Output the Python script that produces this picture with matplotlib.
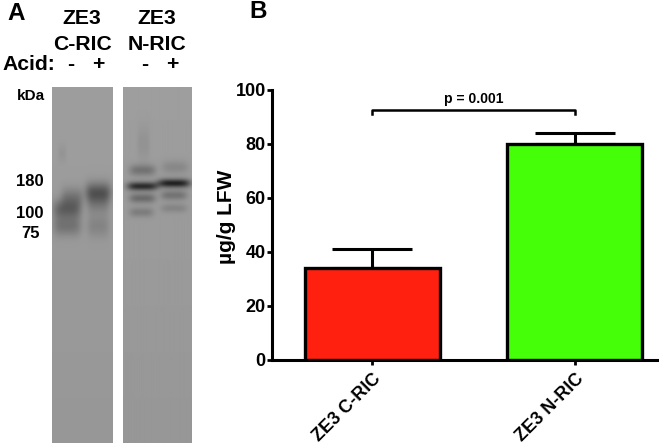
import numpy as np
import matplotlib
matplotlib.use('Agg')
import matplotlib.pyplot as plt

plt.rcParams['font.family'] = ['Liberation Sans', 'DejaVu Sans']
plt.rcParams['font.weight'] = 'bold'

W = 659
H = 445

# bar chart values
groups = ['ZE3 C-RIC', 'ZE3 N-RIC']
means = [34, 80]
errors = [7, 4]
bar_colors = ['#ff2010', '#44ff08']
y_ticks = [0, 20, 40, 60, 80, 100]
p_text = 'p = 0.001'

# blot bands: x, y, half width x, half width y, darkness (pixels of the picture)
left_bands = [
    (67, 209, 14, 7, 0.22),
    (72, 197, 11, 7, 0.13),
    (67, 226, 14, 7, 0.15),
    (98, 192, 13, 7, 0.25),
    (98, 203, 11, 8, 0.11),
    (98, 226, 11, 8, 0.09),
    (62, 153, 4, 6, 0.03),
]
right_bands = [
    (142, 170, 13, 4, 0.16),
    (142, 186, 15, 3, 0.44),
    (142, 198, 13, 3.4, 0.19),
    (141, 212, 12, 3.4, 0.12),
    (174, 167, 13, 4.5, 0.08),
    (173, 183, 16, 3, 0.48),
    (173, 195, 13, 3.4, 0.16),
    (173, 208, 13, 3.2, 0.09),
    (143, 143, 6, 12, 0.04),
]
kda_labels = ['180', '100', '75']
kda_y = [181, 214, 234]


def px_axes(x0, y0, x1, y1):
    # axes placed with the pixel box of the picture (y from the top)
    return fig.add_axes([x0 / W, 1 - y1 / H, (x1 - x0) / W, (y1 - y0) / H])


def draw_blot(x0, x1, bands):
    y0, y1 = 87, 443
    ax = px_axes(x0, y0, x1, y1)
    xx, yy = np.meshgrid(np.arange(x0, x1, 0.5), np.arange(y0, y1, 0.5))
    img = 0.62 - 0.03 * (yy - y0) / (y1 - y0)
    for bx, by, sx, sy, dark in bands:
        img = img - dark * np.exp(-((xx - bx) / sx) ** 4 - ((yy - by) / sy) ** 2 / 2)
    ax.imshow(img, cmap='gray', vmin=0, vmax=1, aspect='auto', extent=[x0, x1, y1, y0])
    ax.axis('off')


def txt(x, y, s, size, **kw):
    fig.text(x / W, 1 - y / H, s, fontsize=size, ha=kw.pop('ha', 'center'), va='center', **kw)


fig = plt.figure(figsize=(W / 100, H / 100), dpi=100)

draw_blot(52, 113, left_bands)
draw_blot(123, 191, right_bands)

txt(16, 13, 'A', 17.5)
txt(258, 11, 'B', 17.5)
txt(82, 18, 'ZE3', 15.2)
txt(82, 44, 'C-RIC', 15.2)
txt(157, 18, 'ZE3', 15.2)
txt(157, 44, 'N-RIC', 15.2)
txt(2, 65, 'Acid:', 15.2, ha='left')
for x, s in zip([71, 98, 145, 172], ['-', '+', '-', '+']):
    txt(x, 64, s, 15.2)
txt(31, 96, 'kDa', 11)
for s, y in zip(kda_labels, kda_y):
    txt(30, y, s, 12)

# bar chart
ax = px_axes(272, 90, 659, 360)
x = np.arange(len(groups))
ax.errorbar(x, means, yerr=[[0, 0], errors], fmt='none', ecolor='black',
            elinewidth=2.2, capsize=29, capthick=2.2, zorder=1)
ax.bar(x, means, width=0.667, color=bar_colors, edgecolor='black', linewidth=2.4, zorder=2)
ax.set_xlim(-0.496, 1.415)
ax.set_ylim(0, 100)
ax.set_yticks(y_ticks)
ax.set_xticks(x)
ax.set_xticklabels(groups, rotation=45, ha='right', rotation_mode='anchor', fontsize=13)
ax.tick_params(axis='y', labelsize=13, width=2, length=3.5, pad=1)
ax.tick_params(axis='x', width=2, length=3.5, pad=4)
ax.spines['top'].set_visible(False)
ax.spines['right'].set_visible(False)
ax.spines['left'].set_linewidth(2.2)
ax.spines['bottom'].set_linewidth(2.2)
ax.patch.set_alpha(0)
ax.set_ylabel('µg/g LFW', fontsize=15, fontweight='bold')
ax.yaxis.set_label_coords(-0.093, 0.53)

# p value bracket
ax.plot([0, 0, 1, 1], [91, 92.7, 92.7, 91], color='black', lw=1.8, clip_on=False)
ax.text(0.5, 96.5, p_text, ha='center', va='center', fontsize=10)

fig.savefig('out.png', dpi=100)
